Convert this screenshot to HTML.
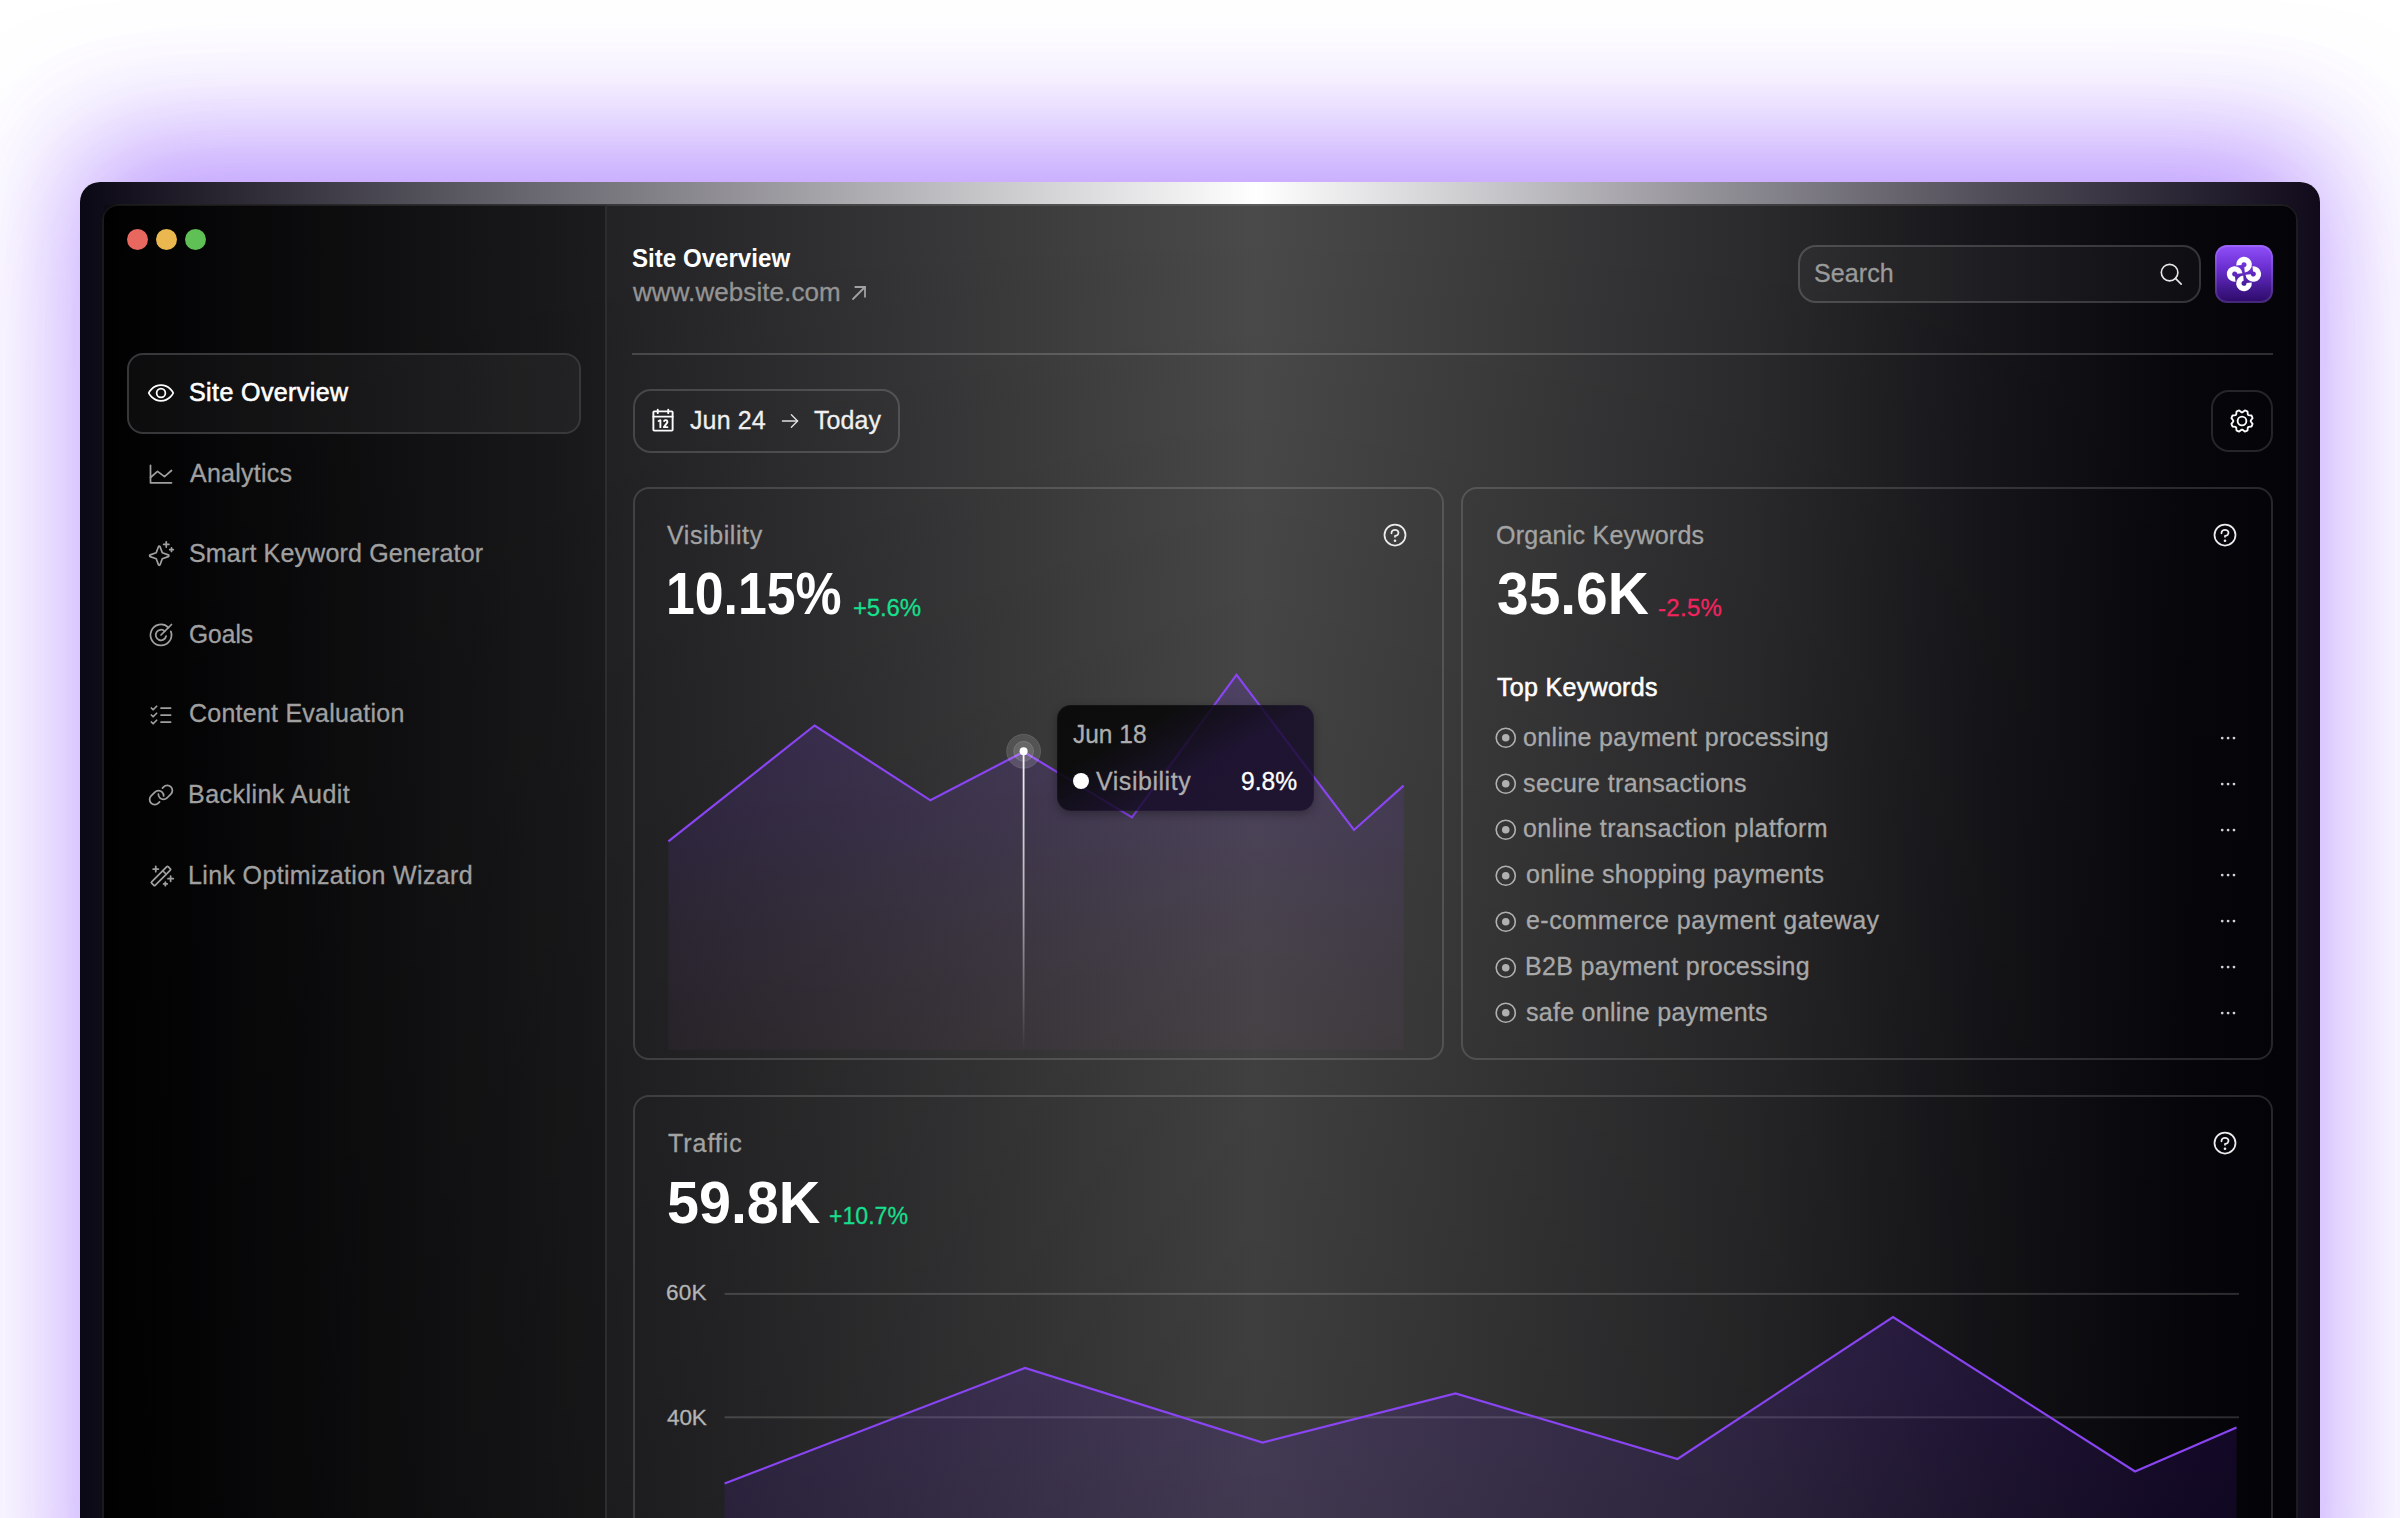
<!DOCTYPE html>
<html lang="en">
<head>
<meta charset="utf-8">
<title>Site Overview</title>
<style>
*{box-sizing:border-box;margin:0;padding:0}
.g{display:contents}
ul{list-style:none}
a{text-decoration:none}
html,body{width:2400px;height:1518px;overflow:hidden;background:#fff}
body{position:relative;font-family:"Liberation Sans",sans-serif;-webkit-font-smoothing:antialiased}
.t{position:absolute;white-space:nowrap;display:block;font-weight:400}
.ic{position:absolute;display:block;overflow:visible}
.abs{position:absolute;display:block}
.glow{position:absolute;left:80px;top:182px;width:2240px;height:1500px;border-radius:20px;
  box-shadow:0 -40px 120px 0 rgba(147,92,254,.6), 0 0 170px 12px rgba(147,92,254,.1)}
.window{position:absolute;left:80px;top:182px;width:2240px;height:1500px;border-radius:20px;overflow:hidden;
  background:linear-gradient(90deg,#0b0815 0%,#ffffff 52.5%,#4e4b56 85.7%,#100a1b 100%)}
.panel{position:absolute;left:102px;top:203.5px;width:2196px;height:1500px;border-radius:16px;overflow:hidden;
  box-shadow:inset 0 0 0 2px rgba(255,255,255,.1);
  background:linear-gradient(180deg,rgba(0,0,0,0) 0,rgba(0,0,0,.14) 900px,rgba(0,0,0,.2) 1400px),linear-gradient(90deg,#010102 0%,#222225 23%,#4a4a4a 52.5%,#2b2b2d 75%,#161519 86%,#07060b 95%,#040308 100%)}
.sidebar{position:absolute;left:104px;top:205px;width:503px;height:1500px;border-right:2px solid #2d2d30;
  background:rgba(0,0,0,.18)}
.navact{position:absolute;left:127px;top:353px;width:454px;height:81px;border-radius:16px;border:2px solid #38383b;background:rgba(255,255,255,.045)}
.dot{position:absolute;width:21px;height:21px;border-radius:50%;top:229px}
.hr{position:absolute;left:632px;top:353px;width:1641px;height:2px;background:rgba(255,255,255,.17)}
.btn{position:absolute;border:2px solid rgba(255,255,255,.16);border-radius:18px}
.card{position:absolute;border:2px solid rgba(255,255,255,.14);border-radius:16px}
.logo{position:absolute;left:2215px;top:245px;width:58px;height:58px;border-radius:12px;
  background:linear-gradient(180deg,#9150fb 0%,#6a2fd0 40%,#43188f 75%,#2c0a66 100%);
  box-shadow:inset 0 0 0 2px rgba(255,255,255,.12)}
.tip{position:absolute;left:1057px;top:705px;width:257px;height:106px;border-radius:14px;
  background:linear-gradient(150deg,rgba(9,9,10,.94) 0%,rgba(9,9,10,.92) 28%,rgba(19,9,38,.8) 58%,rgba(19,9,38,.78) 100%);
  box-shadow:0 3px 10px rgba(0,0,0,.3), inset 0 0 0 1px rgba(255,255,255,.03)}
</style>
</head>
<body>
<div class="glow"></div>
<div class="window"></div>
<div class="panel"></div>
<aside class="g">
<div class="sidebar"></div>
<div class="g" aria-label="Window controls">
<i class="dot" style="left:126.5px;background:#e8675f"></i>
<i class="dot" style="left:155.5px;background:#ebb850"></i>
<i class="dot" style="left:184.5px;background:#5fc055"></i>
</div>
<nav class="g" aria-label="Primary">
<div class="navact"></div>
<svg class="ic" style="left:147.2px;top:379.4px;width:28px;height:28px;color:#ffffff" viewBox="0 0 256 256" fill="none" stroke="currentColor" stroke-width="16" stroke-linecap="round" stroke-linejoin="round" ><path d="M128,56C48,56,16,128,16,128s32,72,112,72,112-72,112-72S208,56,128,56Z"/><circle cx="128" cy="128" r="40"/></svg>
<a class="t" style="left:189px;top:380px;font-size:25px;line-height:25px;color:#ffffff;letter-spacing:0.405px;-webkit-text-stroke:0.6px #ffffff;">Site Overview</a>
<svg class="ic" style="left:147.2px;top:459.7px;width:28px;height:28px;color:#a0a0a0" viewBox="0 0 256 256" fill="none" stroke="currentColor" stroke-width="16" stroke-linecap="round" stroke-linejoin="round" ><polyline points="224 208 32 208 32 48"/><polyline points="224 96 160 152 96 104 32 160"/></svg>
<a class="t" style="left:190px;top:461px;font-size:25px;line-height:25px;color:#a0a0a0;letter-spacing:0.239px;-webkit-text-stroke:0.3px #a0a0a0;">Analytics</a>
<svg class="ic" style="left:147.2px;top:540.0px;width:28px;height:28px;color:#a0a0a0" viewBox="0 0 256 256" fill="none" stroke="currentColor" stroke-width="16" stroke-linecap="round" stroke-linejoin="round" ><path d="M84.27,171.73l-55.09-20.3a7.92,7.92,0,0,1,0-14.86l55.09-20.3,20.3-55.09a7.92,7.92,0,0,1,14.86,0l20.3,55.09,55.09,20.3a7.92,7.92,0,0,1,0,14.86l-55.09,20.3-20.3,55.09a7.92,7.92,0,0,1-14.86,0Z"/><line x1="176" y1="16" x2="176" y2="64"/><line x1="200" y1="40" x2="152" y2="40"/><line x1="224" y1="72" x2="224" y2="104"/><line x1="240" y1="88" x2="208" y2="88"/></svg>
<a class="t" style="left:189px;top:541px;font-size:25px;line-height:25px;color:#a0a0a0;letter-spacing:0.166px;-webkit-text-stroke:0.3px #a0a0a0;">Smart Keyword Generator</a>
<svg class="ic" style="left:147.2px;top:620.7px;width:28px;height:28px;color:#a0a0a0" viewBox="0 0 256 256" fill="none" stroke="currentColor" stroke-width="16" stroke-linecap="round" stroke-linejoin="round" ><line x1="128" y1="128" x2="224" y2="32"/><path d="M195.88,60.12A95.92,95.92,0,1,0,218,94.56"/><path d="M161.94,94.06a48,48,0,1,0,13.11,43.46"/></svg>
<a class="t" style="left:189px;top:622px;font-size:25px;line-height:25px;color:#a0a0a0;transform:scaleX(0.9818);transform-origin:0 0;-webkit-text-stroke:0.3px #a0a0a0;">Goals</a>
<svg class="ic" style="left:147.2px;top:701.0px;width:28px;height:28px;color:#a0a0a0" viewBox="0 0 256 256" fill="none" stroke="currentColor" stroke-width="16" stroke-linecap="round" stroke-linejoin="round" ><line x1="128" y1="128" x2="216" y2="128"/><line x1="128" y1="64" x2="216" y2="64"/><line x1="128" y1="192" x2="216" y2="192"/><polyline points="40 64 56 80 88 48"/><polyline points="40 128 56 144 88 112"/><polyline points="40 192 56 208 88 176"/></svg>
<a class="t" style="left:189px;top:701px;font-size:25px;line-height:25px;color:#a0a0a0;letter-spacing:0.243px;-webkit-text-stroke:0.3px #a0a0a0;">Content Evaluation</a>
<svg class="ic" style="left:147.2px;top:781.3px;width:28px;height:28px;color:#a0a0a0" viewBox="0 0 256 256" fill="none" stroke="currentColor" stroke-width="16" stroke-linecap="round" stroke-linejoin="round" ><path d="M141.38,64.68l11-11a46.62,46.62,0,0,1,65.94,0h0a46.62,46.62,0,0,1,0,65.94L193.94,144,183.6,154.34a46.63,46.63,0,0,1-66-.05h0A46.48,46.48,0,0,1,104,120.06"/><path d="M114.62,191.32l-11,11a46.63,46.63,0,0,1-66-.05h0a46.63,46.63,0,0,1,.06-65.89L72.4,101.66a46.62,46.62,0,0,1,65.94,0h0A46.45,46.45,0,0,1,152,135.94"/></svg>
<a class="t" style="left:188px;top:782px;font-size:25px;line-height:25px;color:#a0a0a0;letter-spacing:0.468px;-webkit-text-stroke:0.3px #a0a0a0;">Backlink Audit</a>
<svg class="ic" style="left:147.2px;top:861.6px;width:28px;height:28px;color:#a0a0a0" viewBox="0 0 256 256" fill="none" stroke="currentColor" stroke-width="16" stroke-linecap="round" stroke-linejoin="round" ><line x1="216" y1="128" x2="216" y2="176"/><line x1="192" y1="152" x2="240" y2="152"/><line x1="80" y1="40" x2="80" y2="88"/><line x1="56" y1="64" x2="104" y2="64"/><line x1="168" y1="184" x2="168" y2="216"/><line x1="152" y1="200" x2="184" y2="200"/><line x1="144" y1="80" x2="176" y2="112"/><rect x="21.49" y="105.37" width="213.02" height="45.25" rx="8" transform="translate(-53.02 128) rotate(-45)"/></svg>
<a class="t" style="left:188px;top:863px;font-size:25px;line-height:25px;color:#a0a0a0;letter-spacing:0.355px;-webkit-text-stroke:0.3px #a0a0a0;">Link Optimization Wizard</a>
</nav>
</aside>
<main class="g">
<header class="g">
<h1 class="t" style="left:632px;top:246px;font-size:25px;line-height:25px;color:#fff;transform:scaleX(0.9644);transform-origin:0 0;font-weight:700;">Site Overview</h1>
<span class="t" style="left:633px;top:279px;font-size:26px;line-height:26px;color:#949494;letter-spacing:0.076px;-webkit-text-stroke:0.3px #949494;">www.website.com</span>
<svg class="ic" style="left:846.9px;top:281px;width:24px;height:24px;color:#a2a2a2" viewBox="0 0 256 256" fill="none" stroke="currentColor" stroke-width="19" stroke-linecap="round" stroke-linejoin="round" ><line x1="64" y1="192" x2="192" y2="64"/><polyline points="88 64 192 64 192 168"/></svg>
<div class="hr"></div>
<div class="g" role="search">
<div class="btn" style="left:1798px;top:245px;width:403px;height:58px;background:rgba(255,255,255,.035)"></div>
<span class="t" style="left:1814px;top:261px;font-size:25px;line-height:25px;color:#9a9a9a;letter-spacing:0.109px;-webkit-text-stroke:0.3px #9a9a9a;">Search</span>
<svg class="ic" style="left:2157.7px;top:261.4px;width:26.5px;height:26.5px;color:#e6e6e6" viewBox="0 0 256 256" fill="none" stroke="currentColor" stroke-width="16" stroke-linecap="round" stroke-linejoin="round" ><circle cx="112" cy="112" r="80"/><line x1="168.57" y1="168.57" x2="224" y2="224"/></svg>
</div>
<div class="logo"></div>
<svg class="ic" style="left:2226px;top:256px;width:36px;height:36px" viewBox="-18 -18 36 36" fill="none" stroke="#fff" stroke-width="5.3"><path transform="rotate(0)" d="M -5.15 -8.75 A 5.2 5.2 0 1 1 0.55 -4.15"/><path transform="rotate(-90)" d="M -5.15 -8.75 A 5.2 5.2 0 1 1 0.55 -4.15"/><path transform="rotate(-180)" d="M -5.15 -8.75 A 5.2 5.2 0 1 1 0.55 -4.15"/><path transform="rotate(-270)" d="M -5.15 -8.75 A 5.2 5.2 0 1 1 0.55 -4.15"/></svg>
</header>
<div class="g" aria-label="Toolbar">
<div class="btn" style="left:632.6px;top:388.8px;width:267px;height:63.8px"></div>
<svg class="ic" style="left:649.2px;top:406.5px;width:28px;height:28px;color:#fbfbfb" viewBox="0 0 256 256" fill="none" stroke="currentColor" stroke-width="17.5" stroke-linecap="round" stroke-linejoin="round" ><rect x="40" y="40" width="176" height="176" rx="8"/><line x1="176" y1="24" x2="176" y2="56"/><line x1="80" y1="24" x2="80" y2="56"/><line x1="40" y1="88" x2="216" y2="88"/><polyline points="88 128 104 120 104 184"/><path d="M138.14,128a16,16,0,1,1,26.64,17.63L136,184h32"/></svg>
<span class="t" style="left:690px;top:408px;font-size:25px;line-height:25px;color:#f0f0f0;letter-spacing:0.112px;-webkit-text-stroke:0.3px #f0f0f0;">Jun 24</span>
<svg class="ic" style="left:778.5px;top:410px;width:22px;height:22px;color:#e0e0e0" viewBox="0 0 256 256" fill="none" stroke="currentColor" stroke-width="16" stroke-linecap="round" stroke-linejoin="round" ><line x1="40" y1="128" x2="216" y2="128"/><polyline points="144 56 216 128 144 200"/></svg>
<span class="t" style="left:814px;top:408px;font-size:25px;line-height:25px;color:#f0f0f0;letter-spacing:0.099px;-webkit-text-stroke:0.3px #f0f0f0;">Today</span>
<div class="btn" style="left:2211px;top:390px;width:62px;height:62px;border-color:rgba(255,255,255,.13)"></div>
<svg class="ic" style="left:2228.2px;top:407px;width:28px;height:28px;color:#fbfbfb" viewBox="0 0 256 256" fill="none" stroke="currentColor" stroke-width="17" stroke-linecap="round" stroke-linejoin="round" ><circle cx="128" cy="128" r="40"/><path d="M41.43,178.09A99.14,99.14,0,0,1,31.36,153.8l16.78-21a81.59,81.59,0,0,1,0-9.64l-16.77-21a99.43,99.43,0,0,1,10.05-24.3l26.71-3a81,81,0,0,1,6.81-6.81l3-26.7A99.14,99.14,0,0,1,102.2,31.36l21,16.78a81.59,81.59,0,0,1,9.64,0l21-16.77a99.43,99.43,0,0,1,24.3,10.05l3,26.71a81,81,0,0,1,6.81,6.81l26.7,3a99.14,99.14,0,0,1,10.07,24.29l-16.78,21a81.59,81.59,0,0,1,0,9.64l16.77,21a99.43,99.43,0,0,1-10,24.3l-26.71,3a81,81,0,0,1-6.81,6.81l-3,26.7a99.14,99.14,0,0,1-24.29,10.07l-21-16.78a81.59,81.59,0,0,1-9.64,0l-21,16.77a99.43,99.43,0,0,1-24.3-10l-3-26.71a81,81,0,0,1-6.81-6.81Z"/></svg>
</div>
<section class="g" aria-label="Visibility">
<div class="card" style="left:632.5px;top:487px;width:811px;height:573px"></div>
<h2 class="t" style="left:667px;top:523px;font-size:25px;line-height:25px;color:#a3a3a3;letter-spacing:0.590px;-webkit-text-stroke:0.3px #a3a3a3;">Visibility</h2>
<svg class="ic" style="left:1381px;top:520.8px;width:28px;height:28px;color:#ececec" viewBox="0 0 256 256" fill="none" stroke="currentColor" stroke-width="16" stroke-linecap="round" stroke-linejoin="round" ><circle cx="128" cy="128" r="96"/><circle cx="128" cy="180" r="12" fill="currentColor" stroke="none"/><path d="M128,144v-8c17.67,0,32-12.54,32-28s-14.33-28-32-28S96,92.54,96,108v4"/></svg>
<span class="t" style="left:666px;top:564px;font-size:59.5px;line-height:59.5px;color:#fff;transform:scaleX(0.8703);transform-origin:0 0;font-weight:700;">10.15%</span>
<span class="t" style="left:853px;top:596px;font-size:24px;line-height:24px;color:#16df8d;letter-spacing:-0.173px;-webkit-text-stroke:0.3px #16df8d;">+5.6%</span>
<svg class="ic" style="left:600px;top:600px;width:900px;height:480px" viewBox="0 0 900 480"><defs><linearGradient id="g1" x1="0" y1="0" x2="0" y2="1"><stop offset="0" stop-color="#7434e6" stop-opacity=".2"/><stop offset=".45" stop-color="#7a3ad8" stop-opacity=".12"/><stop offset="1" stop-color="#96508c" stop-opacity=".05"/></linearGradient><linearGradient id="g2" x1="0" y1="0" x2="0" y2="1"><stop offset="0" stop-color="#fff" stop-opacity=".95"/><stop offset=".5" stop-color="#fff" stop-opacity=".6"/><stop offset="1" stop-color="#fff" stop-opacity="0"/></linearGradient></defs><polygon points="68.4,241.3 214.6,125.5 330.4,200.3 423.7,151.8 532.0,217.4 636.5,74.9 754.0,230.0 803.6,185.6 803.6,450 68.4,450" fill="url(#g1)"/><polyline points="68.4,241.3 214.6,125.5 330.4,200.3 423.7,151.8 532.0,217.4 636.5,74.9 754.0,230.0 803.6,185.6" fill="none" stroke="#8a45f3" stroke-width="2.2" stroke-linejoin="miter"/><circle cx="423.6" cy="151.3" r="17" fill="rgba(255,255,255,.14)" stroke="rgba(255,255,255,.12)" stroke-width="1"/><circle cx="423.6" cy="151.3" r="10" fill="rgba(255,255,255,.12)" stroke="rgba(255,255,255,.14)" stroke-width="1"/><rect x="422.7" y="151.3" width="1.8" height="298" fill="url(#g2)"/><circle cx="423.6" cy="151.3" r="4" fill="#fff"/></svg>
<div class="g" role="tooltip">
<div class="tip"></div>
<span class="t" style="left:1073px;top:722px;font-size:25px;line-height:25px;color:#adadad;transform:scaleX(0.9792);transform-origin:0 0;-webkit-text-stroke:0.3px #adadad;">Jun 18</span>
<i class="abs" style="left:1072.5px;top:773px;width:16px;height:16px;border-radius:50%;background:#fff"></i>
<span class="t" style="left:1096px;top:769px;font-size:25px;line-height:25px;color:#adadad;letter-spacing:0.535px;-webkit-text-stroke:0.3px #adadad;">Visibility</span>
<span class="t" style="left:1241px;top:769px;font-size:25px;line-height:25px;color:#fff;transform:scaleX(0.9839);transform-origin:0 0;-webkit-text-stroke:0.3px #fff;">9.8%</span>
</div>
</section>
<section class="g" aria-label="Organic Keywords">
<div class="card" style="left:1461px;top:487px;width:812px;height:573px"></div>
<h2 class="t" style="left:1496px;top:523px;font-size:25px;line-height:25px;color:#a3a3a3;letter-spacing:0.256px;-webkit-text-stroke:0.3px #a3a3a3;">Organic Keywords</h2>
<svg class="ic" style="left:2211px;top:521px;width:28px;height:28px;color:#ececec" viewBox="0 0 256 256" fill="none" stroke="currentColor" stroke-width="16" stroke-linecap="round" stroke-linejoin="round" ><circle cx="128" cy="128" r="96"/><circle cx="128" cy="180" r="12" fill="currentColor" stroke="none"/><path d="M128,144v-8c17.67,0,32-12.54,32-28s-14.33-28-32-28S96,92.54,96,108v4"/></svg>
<span class="t" style="left:1497px;top:564px;font-size:59.5px;line-height:59.5px;color:#fff;transform:scaleX(0.9563);transform-origin:0 0;font-weight:700;">35.6K</span>
<span class="t" style="left:1658px;top:596px;font-size:24px;line-height:24px;color:#f0245f;letter-spacing:0.307px;-webkit-text-stroke:0.3px #f0245f;">-2.5%</span>
<h3 class="t" style="left:1497px;top:675px;font-size:25px;line-height:25px;color:#fff;letter-spacing:0.313px;-webkit-text-stroke:0.55px #fff;">Top Keywords</h3>
<ul class="g">
<li class="g">
<svg class="ic" style="left:1492.9px;top:724.85px;width:25.5px;height:25.5px;color:#b0b0b0" viewBox="0 0 256 256" fill="none" stroke="currentColor" stroke-width="16" stroke-linecap="round" stroke-linejoin="round" ><circle cx="128" cy="128" r="96"/><circle cx="128" cy="128" r="38" fill="currentColor" stroke="none"/></svg>
<span class="t" style="left:1523px;top:725px;font-size:25px;line-height:25px;color:#a8a8a8;letter-spacing:0.344px;-webkit-text-stroke:0.3px #a8a8a8;">online payment processing</span>
<svg class="ic" style="left:2216.6px;top:726.7px;width:22.2px;height:22.2px;color:#d0d0d0" viewBox="0 0 256 256" fill="none" stroke="currentColor" stroke-width="16" stroke-linecap="round" stroke-linejoin="round" ><circle cx="60" cy="128" r="16" fill="currentColor" stroke="none"/><circle cx="128" cy="128" r="16" fill="currentColor" stroke="none"/><circle cx="196" cy="128" r="16" fill="currentColor" stroke="none"/></svg>
</li>
<li class="g">
<svg class="ic" style="left:1492.9px;top:770.78px;width:25.5px;height:25.5px;color:#b0b0b0" viewBox="0 0 256 256" fill="none" stroke="currentColor" stroke-width="16" stroke-linecap="round" stroke-linejoin="round" ><circle cx="128" cy="128" r="96"/><circle cx="128" cy="128" r="38" fill="currentColor" stroke="none"/></svg>
<span class="t" style="left:1523px;top:771px;font-size:25px;line-height:25px;color:#a8a8a8;letter-spacing:0.379px;-webkit-text-stroke:0.3px #a8a8a8;">secure transactions</span>
<svg class="ic" style="left:2216.6px;top:772.63px;width:22.2px;height:22.2px;color:#d0d0d0" viewBox="0 0 256 256" fill="none" stroke="currentColor" stroke-width="16" stroke-linecap="round" stroke-linejoin="round" ><circle cx="60" cy="128" r="16" fill="currentColor" stroke="none"/><circle cx="128" cy="128" r="16" fill="currentColor" stroke="none"/><circle cx="196" cy="128" r="16" fill="currentColor" stroke="none"/></svg>
</li>
<li class="g">
<svg class="ic" style="left:1492.9px;top:816.71px;width:25.5px;height:25.5px;color:#b0b0b0" viewBox="0 0 256 256" fill="none" stroke="currentColor" stroke-width="16" stroke-linecap="round" stroke-linejoin="round" ><circle cx="128" cy="128" r="96"/><circle cx="128" cy="128" r="38" fill="currentColor" stroke="none"/></svg>
<span class="t" style="left:1523px;top:816px;font-size:25px;line-height:25px;color:#a8a8a8;letter-spacing:0.441px;-webkit-text-stroke:0.3px #a8a8a8;">online transaction platform</span>
<svg class="ic" style="left:2216.6px;top:818.56px;width:22.2px;height:22.2px;color:#d0d0d0" viewBox="0 0 256 256" fill="none" stroke="currentColor" stroke-width="16" stroke-linecap="round" stroke-linejoin="round" ><circle cx="60" cy="128" r="16" fill="currentColor" stroke="none"/><circle cx="128" cy="128" r="16" fill="currentColor" stroke="none"/><circle cx="196" cy="128" r="16" fill="currentColor" stroke="none"/></svg>
</li>
<li class="g">
<svg class="ic" style="left:1492.9px;top:862.64px;width:25.5px;height:25.5px;color:#b0b0b0" viewBox="0 0 256 256" fill="none" stroke="currentColor" stroke-width="16" stroke-linecap="round" stroke-linejoin="round" ><circle cx="128" cy="128" r="96"/><circle cx="128" cy="128" r="38" fill="currentColor" stroke="none"/></svg>
<span class="t" style="left:1526px;top:862px;font-size:25px;line-height:25px;color:#a8a8a8;letter-spacing:0.325px;-webkit-text-stroke:0.3px #a8a8a8;">online shopping payments</span>
<svg class="ic" style="left:2216.6px;top:864.49px;width:22.2px;height:22.2px;color:#d0d0d0" viewBox="0 0 256 256" fill="none" stroke="currentColor" stroke-width="16" stroke-linecap="round" stroke-linejoin="round" ><circle cx="60" cy="128" r="16" fill="currentColor" stroke="none"/><circle cx="128" cy="128" r="16" fill="currentColor" stroke="none"/><circle cx="196" cy="128" r="16" fill="currentColor" stroke="none"/></svg>
</li>
<li class="g">
<svg class="ic" style="left:1492.9px;top:908.57px;width:25.5px;height:25.5px;color:#b0b0b0" viewBox="0 0 256 256" fill="none" stroke="currentColor" stroke-width="16" stroke-linecap="round" stroke-linejoin="round" ><circle cx="128" cy="128" r="96"/><circle cx="128" cy="128" r="38" fill="currentColor" stroke="none"/></svg>
<span class="t" style="left:1526px;top:908px;font-size:25px;line-height:25px;color:#a8a8a8;letter-spacing:0.452px;-webkit-text-stroke:0.3px #a8a8a8;">e-commerce payment gateway</span>
<svg class="ic" style="left:2216.6px;top:910.42px;width:22.2px;height:22.2px;color:#d0d0d0" viewBox="0 0 256 256" fill="none" stroke="currentColor" stroke-width="16" stroke-linecap="round" stroke-linejoin="round" ><circle cx="60" cy="128" r="16" fill="currentColor" stroke="none"/><circle cx="128" cy="128" r="16" fill="currentColor" stroke="none"/><circle cx="196" cy="128" r="16" fill="currentColor" stroke="none"/></svg>
</li>
<li class="g">
<svg class="ic" style="left:1492.9px;top:954.5px;width:25.5px;height:25.5px;color:#b0b0b0" viewBox="0 0 256 256" fill="none" stroke="currentColor" stroke-width="16" stroke-linecap="round" stroke-linejoin="round" ><circle cx="128" cy="128" r="96"/><circle cx="128" cy="128" r="38" fill="currentColor" stroke="none"/></svg>
<span class="t" style="left:1525px;top:954px;font-size:25px;line-height:25px;color:#a8a8a8;letter-spacing:0.320px;-webkit-text-stroke:0.3px #a8a8a8;">B2B payment processing</span>
<svg class="ic" style="left:2216.6px;top:956.35px;width:22.2px;height:22.2px;color:#d0d0d0" viewBox="0 0 256 256" fill="none" stroke="currentColor" stroke-width="16" stroke-linecap="round" stroke-linejoin="round" ><circle cx="60" cy="128" r="16" fill="currentColor" stroke="none"/><circle cx="128" cy="128" r="16" fill="currentColor" stroke="none"/><circle cx="196" cy="128" r="16" fill="currentColor" stroke="none"/></svg>
</li>
<li class="g">
<svg class="ic" style="left:1492.9px;top:1000.43px;width:25.5px;height:25.5px;color:#b0b0b0" viewBox="0 0 256 256" fill="none" stroke="currentColor" stroke-width="16" stroke-linecap="round" stroke-linejoin="round" ><circle cx="128" cy="128" r="96"/><circle cx="128" cy="128" r="38" fill="currentColor" stroke="none"/></svg>
<span class="t" style="left:1526px;top:1000px;font-size:25px;line-height:25px;color:#a8a8a8;letter-spacing:0.281px;-webkit-text-stroke:0.3px #a8a8a8;">safe online payments</span>
<svg class="ic" style="left:2216.6px;top:1002.28px;width:22.2px;height:22.2px;color:#d0d0d0" viewBox="0 0 256 256" fill="none" stroke="currentColor" stroke-width="16" stroke-linecap="round" stroke-linejoin="round" ><circle cx="60" cy="128" r="16" fill="currentColor" stroke="none"/><circle cx="128" cy="128" r="16" fill="currentColor" stroke="none"/><circle cx="196" cy="128" r="16" fill="currentColor" stroke="none"/></svg>
</li>
</ul>
</section>
<section class="g" aria-label="Traffic">
<div class="card" style="left:632.5px;top:1095px;width:1640.5px;height:520px"></div>
<h2 class="t" style="left:668px;top:1131px;font-size:25px;line-height:25px;color:#a3a3a3;letter-spacing:0.942px;-webkit-text-stroke:0.3px #a3a3a3;">Traffic</h2>
<svg class="ic" style="left:2210.6px;top:1129px;width:28px;height:28px;color:#ececec" viewBox="0 0 256 256" fill="none" stroke="currentColor" stroke-width="16" stroke-linecap="round" stroke-linejoin="round" ><circle cx="128" cy="128" r="96"/><circle cx="128" cy="180" r="12" fill="currentColor" stroke="none"/><path d="M128,144v-8c17.67,0,32-12.54,32-28s-14.33-28-32-28S96,92.54,96,108v4"/></svg>
<span class="t" style="left:667px;top:1173px;font-size:59.5px;line-height:59.5px;color:#fff;transform:scaleX(0.9656);transform-origin:0 0;font-weight:700;">59.8K</span>
<span class="t" style="left:829px;top:1204px;font-size:24px;line-height:24px;color:#16df8d;transform:scaleX(0.9621);transform-origin:0 0;-webkit-text-stroke:0.3px #16df8d;">+10.7%</span>
<span class="t" style="left:666px;top:1282px;font-size:22.5px;line-height:22.5px;color:#b4b4b4;letter-spacing:0.180px;-webkit-text-stroke:0.3px #b4b4b4;">60K</span>
<span class="t" style="left:667px;top:1407px;font-size:22.5px;line-height:22.5px;color:#b4b4b4;letter-spacing:-0.133px;-webkit-text-stroke:0.3px #b4b4b4;">40K</span>
<svg class="ic" style="left:600px;top:1200px;width:1700px;height:400px" viewBox="0 0 1700 400"><defs><linearGradient id="g3" x1="0" y1="0" x2="0" y2="1"><stop offset="0" stop-color="#6a28de" stop-opacity=".18"/><stop offset="1" stop-color="#6022d8" stop-opacity=".1"/></linearGradient></defs><rect x="124.6" y="92.9" width="1514.4" height="2" fill="rgba(255,255,255,.16)"/><rect x="124.6" y="216.3" width="1514.4" height="2" fill="rgba(255,255,255,.16)"/><polygon points="124.6,283.5 425.0,167.9 662.5,242.5 855.5,193.5 1077.5,259.0 1293.0,117.0 1535.0,271.5 1636.5,227.5 1636.5,400 124.6,400" fill="url(#g3)"/><polyline points="124.6,283.5 425.0,167.9 662.5,242.5 855.5,193.5 1077.5,259.0 1293.0,117.0 1535.0,271.5 1636.5,227.5" fill="none" stroke="#8a45f3" stroke-width="2.2"/></svg>
</section>
</main>
</body>
</html>
